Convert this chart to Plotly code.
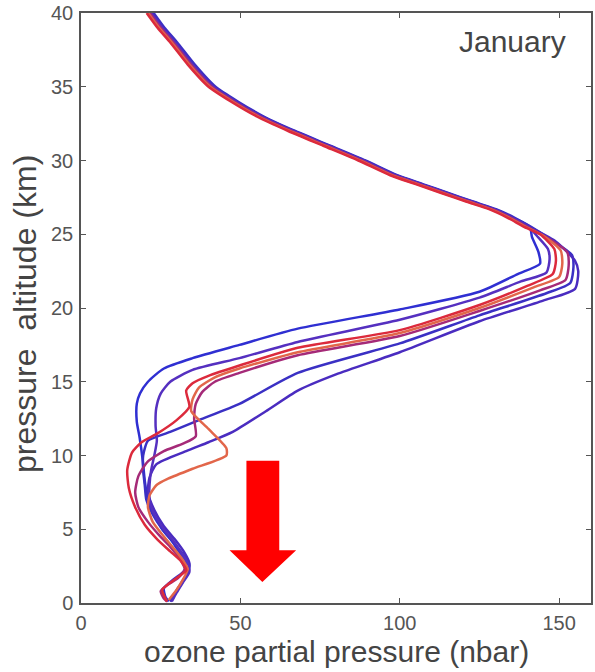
import plotly.graph_objects as go

# ---------------- data ----------------
# shared altitude grid of the upper (stratospheric) branch, km
UPPER_Y = [40, 39, 38, 36.5, 35, 34, 33, 32, 31, 30, 29, 28.4, 27.8, 27.2, 26.7, 26.1, 25.5]

# ozone partial pressure (nbar) of each profile on the upper grid
P1_UX = [22.4, 25.8, 29.8, 35.3, 41.8, 48.8, 56.8, 66.8, 77.8, 88.8, 98.8, 106.8, 114.8, 122.8, 129.8, 135.8, 140.8]
P2_UX = [22.0, 25.4, 29.4, 34.9, 41.4, 48.4, 56.4, 66.4, 77.4, 88.4, 98.4, 106.4, 114.4, 122.4, 129.4, 135.4, 140.4]
P3_UX = [20.6, 24.0, 28.0, 33.5, 40.0, 47.0, 55.0, 65.0, 76.0, 87.0, 97.0, 105.0, 113.0, 121.0, 128.0, 134.0, 139.0]
P4_UX = [21.1, 24.5, 28.5, 34.0, 40.5, 47.5, 55.5, 65.5, 76.5, 87.5, 97.5, 105.5, 113.5, 121.5, 128.5, 134.5, 139.5]
P5_UX = [21.6, 25.0, 29.0, 34.5, 41.0, 48.0, 56.0, 66.0, 77.0, 88.0, 98.0, 106.0, 114.0, 122.0, 129.0, 135.0, 140.0]
P6_UX = [22.8, 26.2, 30.2, 35.7, 42.2, 49.2, 57.2, 67.2, 78.2, 89.2, 99.2, 107.2, 115.2, 123.2, 130.2, 136.2, 141.2]
P7_UX = [22.2, 25.6, 29.6, 35.1, 41.6, 48.6, 56.6, 66.6, 77.6, 88.6, 98.6, 106.6, 114.6, 122.6, 129.6, 135.6, 140.6]

# lower part of each profile (peak, tropopause region, troposphere)
P1_LX = [141.5, 143.5, 144, 137, 125, 100, 68, 49.7, 35, 26, 21, 18.5, 17.5, 17.5, 18.4, 19.4, 20, 21, 23, 25.5, 28.5, 31, 33, 32.5, 29, 26, 26.5, 27.5]
P1_LY = [24.8, 23.8, 23.0, 22.3, 21.1, 19.9, 18.6, 17.5, 16.6, 15.9, 15.0, 14.2, 13.5, 12.3, 11.2, 9.6, 8.3, 7.0, 6.0, 5.0, 4.2, 3.4, 2.8, 2.2, 1.6, 1.0, 0.4, 0.1]

P2_LX = [143, 146.5, 147, 146, 138, 125, 100, 68, 49.7, 35, 28, 25, 23.6, 23.4, 23.8, 23, 22, 21.5, 21.5, 23, 26, 29, 31.5, 33.5, 34, 32, 30, 28.5]
P2_LY = [24.9, 24.0, 23.3, 22.4, 21.8, 20.7, 19.2, 17.7, 16.6, 15.8, 15.0, 14.2, 13.2, 12.0, 11.0, 10.0, 9.0, 8.0, 7.0, 6.0, 5.0, 4.2, 3.4, 2.7, 2.1, 1.4, 0.7, 0.1]

P3_LX = [144, 148.5, 149, 148, 140, 125, 100, 68, 49.7, 40, 35, 33, 34, 30, 24, 19, 16, 14.5, 15, 17, 20, 24, 28, 31.5, 33, 30, 27.5, 25.5, 26.5, 27]
P3_LY = [25.0, 24.0, 23.2, 22.3, 21.5, 20.2, 18.5, 17.3, 16.1, 15.4, 14.9, 14.4, 13.3, 12.4, 11.5, 10.9, 10.2, 9.0, 7.8, 6.5, 5.3, 4.3, 3.5, 2.8, 2.2, 1.7, 1.3, 0.9, 0.3, 0.1]

P4_LX = [145, 150.5, 151, 150, 142, 125, 100, 68, 49.7, 42, 37, 35, 34.6, 40, 45.6, 45.6, 35, 27, 23.7, 21.5, 21, 22.5, 26, 29.5, 32, 33.5, 32, 30, 27.5]
P4_LY = [24.9, 23.9, 23.0, 22.1, 21.4, 20.0, 18.3, 17.0, 15.9, 15.3, 14.6, 13.8, 13.0, 11.8, 10.5, 10.0, 9.1, 8.4, 8.0, 7.3, 6.5, 5.5, 4.5, 3.6, 2.9, 2.3, 1.6, 0.9, 0.2]

P5_LX = [146, 152.5, 153, 152, 144, 125, 100, 68, 49.7, 42, 38, 36, 35.5, 36, 32, 26, 21, 18, 17, 18, 21, 24.5, 28, 31, 32.5, 30.5, 27, 25, 26, 27]
P5_LY = [24.8, 23.8, 22.9, 21.9, 21.2, 19.8, 18.1, 16.8, 15.6, 15.0, 14.3, 13.5, 12.5, 11.3, 10.8, 10.3, 9.6, 8.6, 7.5, 6.5, 5.5, 4.6, 3.8, 3.0, 2.3, 1.7, 1.2, 0.8, 0.3, 0.1]

P6_LX = [147, 154, 154.5, 153.5, 146, 125, 100, 68, 49.7, 37, 28, 21, 19.5, 19.5, 20, 20.5, 22.5, 25.5, 29, 32, 34, 33.5, 31.5, 29.5, 28]
P6_LY = [24.7, 23.6, 22.8, 21.7, 21.0, 19.5, 17.6, 15.6, 13.5, 12.4, 11.6, 11.0, 10.0, 9.0, 8.0, 7.0, 6.0, 5.0, 4.1, 3.3, 2.6, 2.0, 1.3, 0.6, 0.1]

P7_LX = [149, 155, 156, 155, 145, 125, 100, 80, 68, 58, 47.6, 40, 33, 23.6, 21.5, 21, 23, 26, 29.5, 32.5, 34, 33, 31, 29, 28]
P7_LY = [24.5, 23.2, 22.5, 21.3, 20.5, 19.1, 17.0, 15.5, 14.4, 13.0, 11.6, 10.9, 10.3, 9.4, 8.5, 7.5, 6.3, 5.2, 4.3, 3.4, 2.7, 1.9, 1.2, 0.5, 0.1]

PROFILES = [
    ("P1", P1_UX, P1_LX, P1_LY, "#2f2fd2"),
    ("P6", P6_UX, P6_LX, P6_LY, "#3a30c4"),
    ("P7", P7_UX, P7_LX, P7_LY, "#4a2cc0"),
    ("P2", P2_UX, P2_LX, P2_LY, "#5530c0"),
    ("P5", P5_UX, P5_LX, P5_LY, "#a52a78"),
    ("P4", P4_UX, P4_LX, P4_LY, "#e2664a"),
    ("P3", P3_UX, P3_LX, P3_LY, "#dc2a3c"),
]

X_TICKS = [0, 50, 100, 150]
Y_TICKS = [0, 5, 10, 15, 20, 25, 30, 35, 40]

# ---------------- figure ----------------
FONT = "Liberation Sans, Arial, Helvetica, sans-serif"
fig = go.Figure()
for name, ux, lx, ly, col in PROFILES:
    fig.add_trace(go.Scatter(
        x=ux + lx, y=UPPER_Y + ly, mode="lines", name=name,
        line=dict(color=col, width=2.5, shape="spline", smoothing=0.6),
        showlegend=False, hoverinfo="skip"))

# big red arrow
fig.add_shape(type="path",
              path="M 51.9,9.65 L 62.2,9.65 L 62.2,3.58 L 67.5,3.58 L 56.9,1.42 L 46.6,3.58 L 51.9,3.58 Z",
              xref="x", yref="y", fillcolor="#ff0000", line=dict(width=0))

axis_common = dict(showgrid=False, zeroline=False, showline=True, linecolor="#555555",
                   linewidth=1.5, mirror="ticks", ticks="inside", ticklen=5,
                   tickcolor="#555555", tickwidth=1,
                   tickfont=dict(family=FONT, size=20, color="#555555"))
fig.update_xaxes(range=[0, 160], tickvals=X_TICKS, ticktext=[str(v) for v in X_TICKS],
                 ticklabelstandoff=1, **axis_common)
fig.update_yaxes(range=[0, 40], tickvals=Y_TICKS, ticktext=[str(v) for v in Y_TICKS],
                 ticklabelstandoff=2, ticklabeloverflow="allow", **axis_common)

fig.add_annotation(text="January", x=152.8, y=38.1, xref="x", yref="y",
                   xanchor="right", yanchor="middle", showarrow=False,
                   font=dict(family=FONT, size=30, color="#444444"))
fig.add_annotation(text="ozone partial pressure (nbar)", x=0.5, y=0, xref="paper", yref="paper",
                   xanchor="center", yanchor="middle", yshift=-48, showarrow=False,
                   font=dict(family=FONT, size=30, color="#444444"))
fig.add_annotation(text="pressure\u00a0\u00a0altitude (km)", x=0, y=0.5, xref="paper", yref="paper",
                   xanchor="center", yanchor="middle", xshift=-56, yshift=-6, textangle=-90,
                   showarrow=False, font=dict(family=FONT, size=32, color="#444444"))

fig.update_layout(width=595, height=672, margin=dict(l=81, r=2, t=10, b=69),
                  plot_bgcolor="white", paper_bgcolor="white", showlegend=False)

fig.write_html("out.html", config={"displayModeBar": False},
               post_script="document.body.style.margin='0px';")
